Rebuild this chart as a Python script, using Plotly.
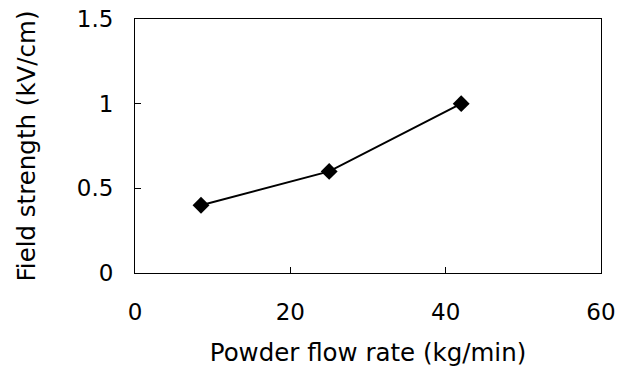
import plotly.graph_objects as go

flow_rate = [8.5, 25, 42]
field_strength = [0.4, 0.6, 1.0]
x_ticks = [0, 20, 40, 60]
y_ticks = [0, 0.5, 1, 1.5]
y_tick_text = ["0", "0.5", "1", "1.5"]

font = "DejaVu Sans"

fig = go.Figure()
fig.add_trace(go.Scatter(
    x=flow_rate, y=field_strength, mode="lines+markers",
    line=dict(color="black", width=2),
    marker=dict(symbol="diamond", size=13, color="black"),
    showlegend=False,
))

fig.update_layout(
    width=617, height=367,
    margin=dict(l=135, r=16, t=19, b=94, autoexpand=False),
    paper_bgcolor="white", plot_bgcolor="white",
    font=dict(family=font, size=23, color="black"),
    xaxis=dict(
        range=[0, 60], tickvals=x_ticks, ticks="inside", ticklen=6,
        tickcolor="black", showline=True, linecolor="black", linewidth=1,
        mirror=True, showgrid=False, zeroline=False,
        ticklabelstandoff=18, automargin=False, ticklabeloverflow="allow",
        title=dict(text="Powder flow rate (kg/min)", standoff=22,
                   font=dict(family=font, size=24.5)),
    ),
    yaxis=dict(
        range=[0, 1.5], tickvals=y_ticks, ticktext=y_tick_text,
        ticks="inside", ticklen=6, tickcolor="black",
        showline=True, linecolor="black", linewidth=1, mirror=True,
        showgrid=False, zeroline=False, ticklabelstandoff=16, automargin=False,
        ticklabeloverflow="allow",
        title=dict(text="Field strength (kV/cm)", standoff=34,
                   font=dict(family=font, size=24.5)),
    ),
)

fig.write_html(
    "out.html",
    config={"displayModeBar": False},
    post_script="document.body.style.margin='0';document.body.style.overflow='hidden';",
)
